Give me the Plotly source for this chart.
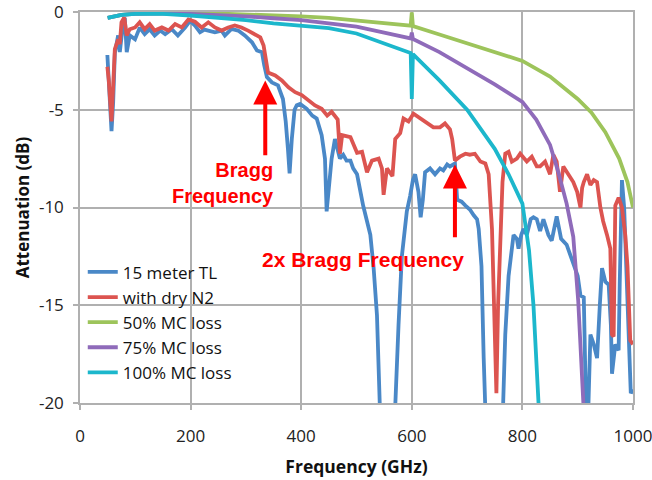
import plotly.graph_objects as go

# ---------------- data ----------------
tl_freq = [49.5, 51, 57, 60, 63, 69, 72, 78, 81, 84.5, 90, 99.5, 108, 117, 126, 135, 145, 154, 166, 177,
           190, 199, 208, 217, 225, 232, 244, 256, 262, 274, 286, 298, 311, 320, 329, 333, 338, 347, 358, 367,
           372, 376, 379, 383, 388, 392, 398, 410, 420, 428, 437, 443, 446, 450, 455, 461, 470, 476, 482, 489,
           494, 501, 507, 512, 519, 525, 531, 537, 542, 546, 566, 570, 576, 582, 587, 591, 597, 602, 606, 612,
           616, 620, 624, 633, 642, 651, 657, 664, 669, 678, 682, 690, 697, 705, 712, 718, 721, 726, 730, 733,
           736, 762, 766, 769, 775, 781, 784, 790, 793, 798, 802, 808, 815, 820, 826, 832, 838, 847, 853, 862,
           870, 880, 887, 895, 900, 905, 911, 914, 917, 919, 923, 929, 935, 940, 944, 950, 956, 960, 962, 968,
           974, 976, 980, 984, 988, 993, 996, 1000]
tl_att = [-2.2, -2.9, -6.1, -4.6, -2.1, -1.2, -2.05, -0.55, -0.3, -2.05, -1.2, -1.4, -0.8, -1.13, -0.88, -1.2, -0.95, -1.13, -0.88, -1.2,
          -0.8, -0.45, -0.7, -1.04, -0.9, -0.95, -1.04, -0.95, -1.2, -0.87, -0.95, -1.2, -1.55, -1.97, -2.06, -2.7, -3.33, -3.6, -3.75, -4.45,
          -5.6, -7.0, -8.25, -6.5, -5.0, -4.77, -4.7, -4.95, -5.3, -5.45, -6.3, -7.5, -10.2, -9.0, -7.5, -6.5, -7.5, -7.3, -7.6, -7.6,
          -8.0, -8.3, -9.2, -9.9, -10.7, -11.4, -13.1, -15.5, -20.0, -23.0, -23.0, -19.9, -16.0, -12.5, -11.0, -10.2, -9.4, -8.6, -8.3, -9.2,
          -10.5, -9.6, -8.2, -8.0, -8.3, -8.0, -8.1, -7.8, -7.9, -7.75, -9.6, -9.7, -9.9, -10.1, -10.4, -10.6, -11.1, -13.0, -17.7, -20.5,
          -23.0, -23.0, -19.9, -16.5, -13.5, -12.0, -11.4, -11.6, -12.1, -11.4, -11.1, -11.4, -10.6, -10.5, -10.6, -11.2, -10.6, -11.4, -11.7, -10.45,
          -11.6, -11.9, -12.4, -13.1, -13.5, -14.5, -14.6, -20.5, -23.0, -20.5, -16.5, -17.0, -17.7, -15.0, -13.1, -13.8, -13.95, -16.0, -18.5, -17.0,
          -17.3, -13.9, -8.6, -10.0, -13.0, -17.5, -19.5, -19.3]

n2_freq = [49.5, 52, 57, 60, 63, 69, 72, 75, 80, 84.5, 90, 99.5, 108, 117, 126, 135, 148, 160, 172, 184,
           196, 208, 220, 232, 244, 256, 268, 280, 292, 304, 316, 326, 332, 336, 340, 353, 365, 377, 389, 401,
           413, 425, 437, 447, 455, 461, 466, 470, 474, 489, 501, 510, 519, 528, 540, 546, 549, 555, 565, 570,
           579, 585, 594, 603, 615, 628, 639, 651, 660, 669, 673, 678, 687, 697, 705, 714, 724, 733, 739, 745,
           749, 753, 756, 760, 764, 769, 775, 781, 790, 796, 808, 817, 826, 832, 841, 850, 856, 862, 868, 874,
           883, 892, 899, 905, 908, 911, 917, 923, 929, 935, 941, 946, 953, 959, 962, 965, 968, 974, 980, 986,
           990, 995, 1000]
n2_att = [-2.8, -3.5, -5.6, -4.0, -1.9, -1.4, -1.64, -0.53, -0.28, -1.2, -0.88, -0.79, -0.53, -0.88, -0.62, -0.95, -0.79, -0.95, -0.62, -0.79,
          -0.38, -0.5, -0.79, -0.53, -0.79, -0.95, -0.79, -0.69, -0.79, -0.95, -1.13, -1.3, -1.72, -2.4, -3.1, -3.25, -3.5, -3.85, -4.1, -4.25,
          -4.5, -4.78, -4.95, -5.3, -5.1, -5.3, -5.5, -7.25, -6.3, -6.4, -7.2, -7.15, -8.2, -7.6, -7.5, -8.0, -9.35, -8.0, -8.4, -6.5,
          -6.2, -5.45, -5.6, -5.2, -5.45, -5.7, -5.9, -5.9, -5.7, -6.0, -6.5, -7.6, -7.4, -7.25, -7.3, -7.25, -7.65, -7.75, -8.3, -11.1,
          -15.0, -19.5, -15.0, -12.4, -8.7, -7.25, -7.15, -7.65, -7.5, -7.25, -7.65, -7.4, -7.9, -7.9, -7.65, -8.3, -7.3, -7.65, -9.2, -7.9,
          -8.3, -8.7, -9.2, -10.0, -9.0, -8.7, -8.3, -8.85, -8.6, -8.7, -10.0, -10.7, -11.4, -12.1, -16.5, -16.6, -9.9, -9.5, -10.0, -11.4,
          -13.0, -16.8, -17.0]

mc_freq = [50, 75, 100, 150, 200, 250, 300, 350, 400, 450, 500, 550, 598, 600, 602, 650, 700, 750, 800, 850, 875, 900, 925, 950, 975, 990, 1000]
mc50_att = [-0.3, -0.15, -0.08, -0.05, -0.06, -0.08, -0.12, -0.17, -0.22, -0.3, -0.42, -0.55, -0.7, -0.02, -0.72, -1.15, -1.6, -2.0, -2.5, -3.3, -3.85, -4.45, -5.15, -6.15, -7.5, -8.7, -10.0]

mc75_freq = [50, 75, 100, 150, 200, 250, 300, 350, 400, 450, 500, 550, 598, 600, 602, 650, 700, 750, 800, 825, 850, 865, 880, 892, 901, 908, 912]
mc75_att = [-0.3, -0.15, -0.1, -0.07, -0.1, -0.15, -0.22, -0.32, -0.42, -0.58, -0.75, -1.05, -1.35, -1.05, -1.38, -2.05, -2.85, -3.7, -4.6, -5.5, -6.8, -8.2, -9.8, -11.5, -14.8, -18.2, -21.0]

mc100_freq = [50, 75, 100, 150, 200, 250, 300, 350, 400, 450, 500, 550, 598, 600, 602, 650, 700, 750, 775, 800, 812, 820, 826, 831]
mc100_att = [-0.3, -0.15, -0.1, -0.1, -0.18, -0.28, -0.42, -0.58, -0.7, -0.82, -1.1, -1.6, -2.1, -4.45, -2.15, -3.5, -5.0, -7.0, -8.3, -9.8, -12.2, -15.0, -18.0, -21.0]

series_names = ["15 meter TL", "with dry N2", "50% MC loss", "75% MC loss", "100% MC loss"]
series_colors = ["#4A88C7", "#DC5450", "#9DC45B", "#8F6BBA", "#1CB7CC"]

bragg_freq = 335
bragg2_freq = 678

x_ticks = [0, 200, 400, 600, 800, 1000]
y_ticks = [0, -5, -10, -15, -20]

# ---------------- figure ----------------
fig = go.Figure()
all_x = [tl_freq, n2_freq, mc_freq, mc75_freq, mc100_freq]
all_y = [tl_att, n2_att, mc50_att, mc75_att, mc100_att]
for name, color, xs, ys in zip(series_names, series_colors, all_x, all_y):
    fig.add_trace(go.Scatter(x=xs, y=ys, mode="lines", name=name,
                             line=dict(color=color, width=3.8)))

grid = "#B0B0B0"
tick_font = dict(family="Open Sans, Liberation Sans, sans-serif", size=17, color="#222222")
fig.update_xaxes(range=[0, 1000], tickvals=x_ticks, ticktext=[str(v) for v in x_ticks],
                 showgrid=True, gridcolor=grid, gridwidth=1.5,
                 showline=True, linecolor=grid, linewidth=1.5, mirror=True,
                 ticks="outside", ticklen=5, tickcolor=grid, tickwidth=1.5,
                 tickfont=tick_font, ticklabelstandoff=12, ticklabeloverflow="allow", zeroline=False,
                 automargin=False,
                 title=dict(text="<b>Frequency (GHz)</b>",
                            font=dict(family="Open Sans, sans-serif", size=17.5, color="#111111")))
fig.update_yaxes(range=[-20, 0], tickvals=y_ticks, ticktext=[str(v) for v in y_ticks],
                 showgrid=True, gridcolor=grid, gridwidth=1.5,
                 showline=True, linecolor=grid, linewidth=1.5, mirror=True,
                 ticks="outside", ticklen=5, tickcolor=grid, tickwidth=1.5,
                 tickfont=tick_font, ticklabelstandoff=6, ticklabeloverflow="allow", zeroline=False,
                 automargin=False,
                 title=dict(text="<b>Attenuation (dB)</b>", standoff=5,
                            font=dict(family="Open Sans, sans-serif", size=17, color="#111111")))

ann_font = dict(family="Liberation Sans, Arial, sans-serif", size=20, color="#FF0000")
fig.add_annotation(x=bragg_freq, y=-3.5, ax=bragg_freq, ay=-7.4, xref="x", yref="y", axref="x", ayref="y",
                   showarrow=True, arrowhead=2, arrowsize=1.2, arrowwidth=4, arrowcolor="#FF0000", text="")
fig.add_annotation(x=bragg2_freq, y=-7.8, ax=bragg2_freq, ay=-11.6, xref="x", yref="y", axref="x", ayref="y",
                   showarrow=True, arrowhead=2, arrowsize=1.2, arrowwidth=4, arrowcolor="#FF0000", text="")
fig.add_annotation(x=355, y=-8.75, xref="x", yref="y", xanchor="right", yanchor="middle", align="right",
                   showarrow=False, text="<b>Bragg<br>Frequency</b>", font=ann_font)
fig.add_annotation(x=512, y=-12.65, xref="x", yref="y", xanchor="center", yanchor="middle",
                   showarrow=False, text="<b>2x Bragg Frequency</b>",
                   font=dict(family="Liberation Sans, Arial, sans-serif", size=21, color="#FF0000"))

fig.update_layout(
    width=652, height=480,
    margin=dict(l=80, r=19, t=12, b=77),
    paper_bgcolor="white", plot_bgcolor="white",
    showlegend=True,
    legend=dict(x=0.005, y=0.38, xanchor="left", yanchor="top", bgcolor="rgba(0,0,0,0)",
                borderwidth=0, itemwidth=30,
                font=dict(family="Open Sans, sans-serif", size=17, color="#111111")),
)

fig.write_html("out.html")
